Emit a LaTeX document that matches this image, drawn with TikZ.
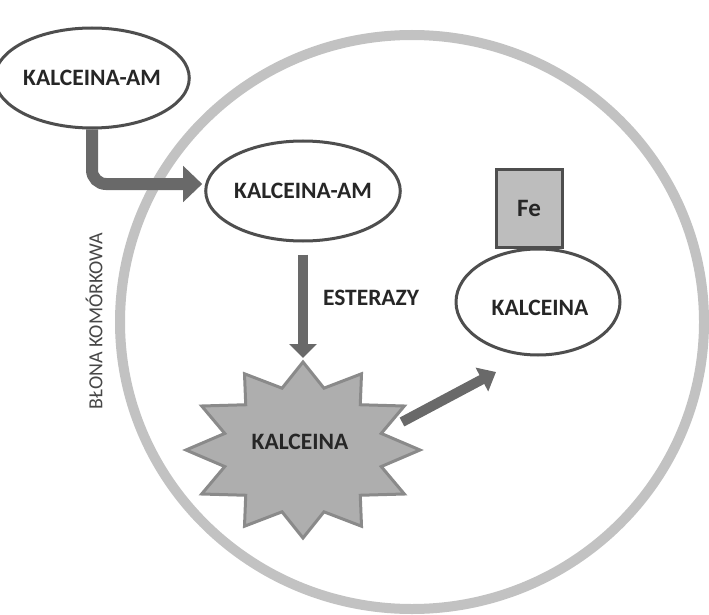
\documentclass[tikz,border=0pt]{standalone}
\usepackage{fontspec}
\setmainfont{Carlito}
\usepackage{tikz}
\usetikzlibrary{arrows.meta,shapes.geometric}

\definecolor{ringgrey}{HTML}{C2C2C2}
\definecolor{edgegrey}{HTML}{4E4E4E}
\definecolor{arrowgrey}{HTML}{696969}
\definecolor{stargrey}{HTML}{AEAEAE}
\definecolor{starline}{HTML}{8A8A8A}
\definecolor{boxgrey}{HTML}{BDBDBD}
\definecolor{inkgrey}{HTML}{262626}

\tikzset{
	oval/.style={ellipse, draw=edgegrey, line width=3pt, fill=white,
		inner sep=0pt, text=inkgrey, font=\bfseries\fontsize{23.5}{25}\selectfont},
	febox/.style={rectangle, draw=edgegrey, line width=3pt, fill=boxgrey,
		minimum width=66pt, minimum height=78pt, text=inkgrey,
		font=\bfseries\fontsize{25}{27}\selectfont},
	fatarrow/.style={draw=arrowgrey, line width=#1},
	tag/.style={text=inkgrey, font=\bfseries\fontsize{23.5}{25}\selectfont}
}

\begin{document}
\begin{tikzpicture}[x=1pt,y=-1pt]
	\useasboundingbox (0,0) rectangle (709,615);

	% cell membrane
	\draw [ringgrey, line width=10pt] (412,322) ellipse [x radius=292, y radius=287];
	\node (blona) at (94,321) [rotate=90, text=inkgrey!85, font=\fontsize{20}{22}\selectfont] {BŁONA KOMÓRKOWA};

	% molecules
	\node (ka1) at (92,78)   [oval, minimum width=160pt, minimum height=100pt] {KALCEINA-AM};
	\node (ka2) at (303,191) [oval, minimum width=170pt, minimum height=100pt] {KALCEINA-AM};
	\node (ka3) at (538,302) [oval, minimum width=164pt, minimum height=106pt] {};
	\node (ka3lbl) at (540,308) [tag] {KALCEINA};
	\node (fe) at (529,208)  [febox] {Fe};

	\draw [draw=starline, fill=stargrey, line width=3pt, line join=miter, shift={(303,450)}]
		(90:117pt and 88pt)
		\foreach \k in {0,...,11} { -- (105+30*\k:81pt and 64pt) -- (120+30*\k:117pt and 88pt) } -- cycle;
	\node (kal) at (300,442) [tag] {KALCEINA};

	\coordinate (startop) at (303,358);
	\coordinate (starout) at (402,422);
	\coordinate (ka3tip)  at (496,372);

	% arrows
	\draw [fatarrow=12pt, rounded corners=14pt, -{Triangle[length=19pt,width=35pt]}]
		(ka1.south) |- ([xshift=-2pt,yshift=7pt]ka2.west);
	\draw [fatarrow=10pt, shorten <=12pt, -{Triangle[length=14pt,width=27pt]}]
		(ka2.south) -- (startop);
	\node (est) at (371,298) [tag] {ESTERAZY};
	\draw [fatarrow=10pt, -{Triangle[length=16pt,width=26pt]}]
		(starout) -- (ka3tip);
\end{tikzpicture}
\end{document}
